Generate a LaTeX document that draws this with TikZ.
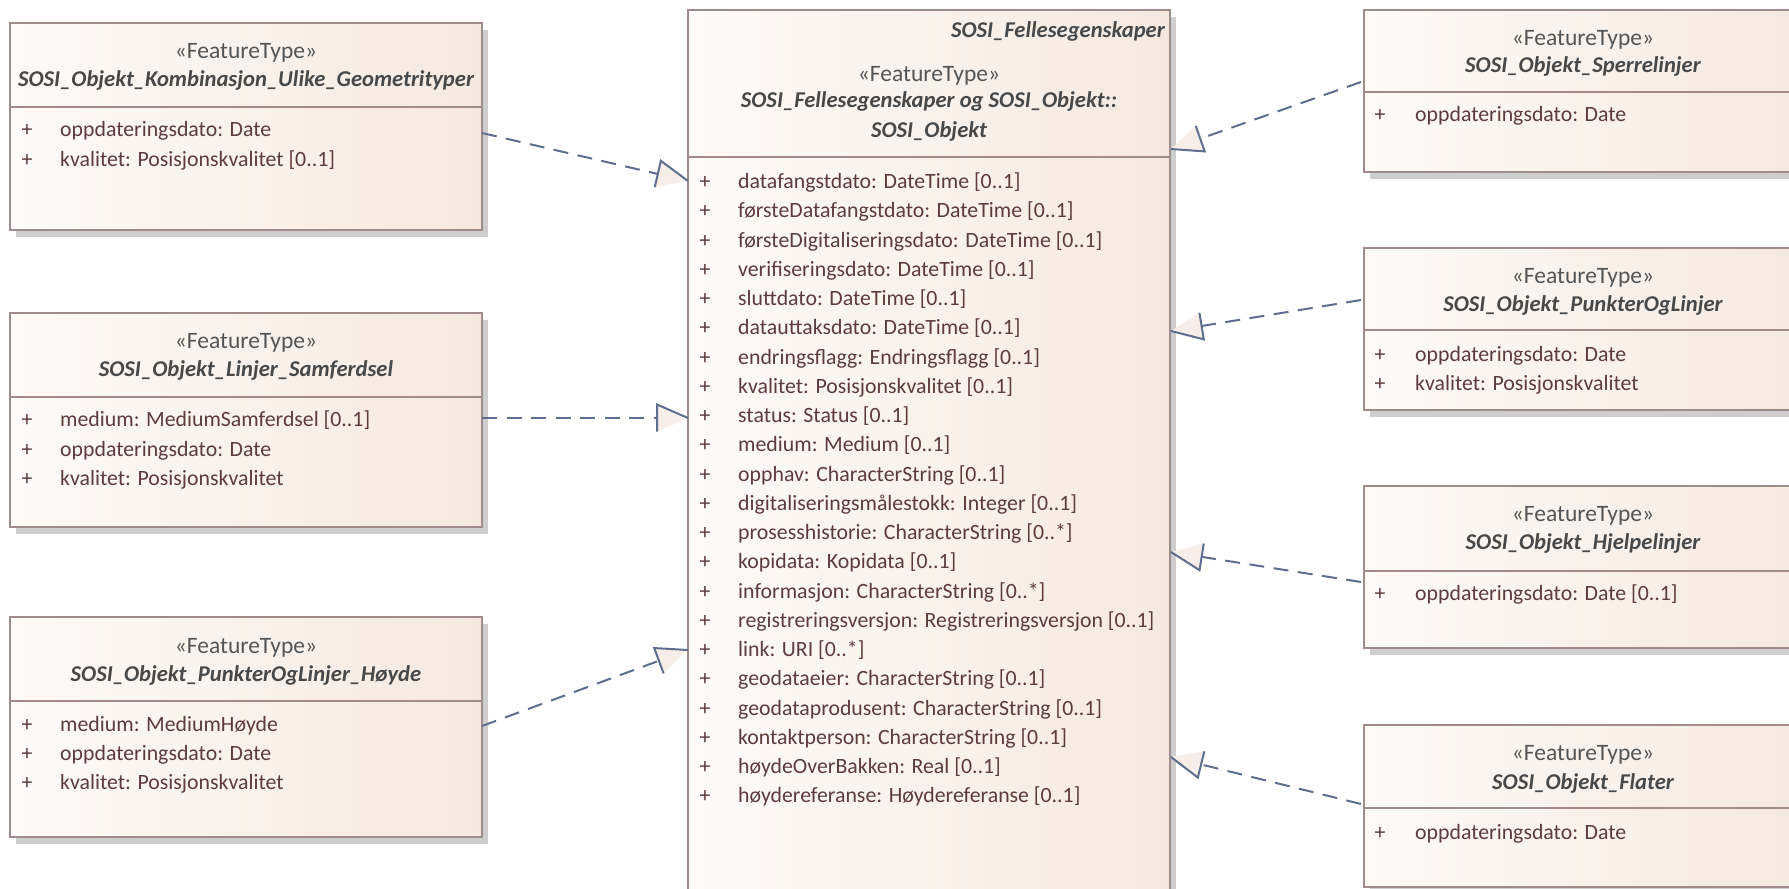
\documentclass[tikz,border=0pt]{standalone}
\usepackage{fontspec}
\setmainfont{Carlito}
\usetikzlibrary{calc}

\definecolor{boxline}{RGB}{160,138,138}
\definecolor{boxleft}{RGB}{253,250,248}
\definecolor{boxright}{RGB}{245,233,223}
\definecolor{shadowgray}{RGB}{206,206,206}
\definecolor{connline}{RGB}{94,110,142}
\definecolor{arrowfill}{RGB}{247,238,234}
\definecolor{attrtext}{RGB}{92,60,60}
\definecolor{stereotext}{RGB}{85,85,85}
\definecolor{titletext}{RGB}{72,72,72}

\tikzset{
  classbox/.style={draw=boxline, line width=2pt, left color=boxleft, right color=boxright,
    inner sep=0pt, outer sep=0pt, anchor=north west},
  boxshadow/.style={fill=shadowgray},
  sepline/.style={draw=boxline, line width=2pt},
  stereo/.style={text=stereotext, font=\fontsize{23.5}{28}\selectfont, inner sep=0pt,
    text height=15pt, text depth=5pt},
  cname/.style={text=titletext, font=\fontsize{22.6}{27}\selectfont\bfseries\itshape, inner sep=0pt,
    text height=14.5pt, text depth=4.6pt},
  attr/.style={text=attrtext, font=\fontsize{21.8}{26}\selectfont, inner sep=0pt, anchor=west,
    text height=14pt, text depth=4.5pt},
  plus/.style={attr, anchor=center},
  realline/.style={draw=connline, line width=2pt, dash pattern=on 15pt off 9.5pt},
  headline/.style={draw=connline, line width=2pt, line join=miter},
  headfill/.style={fill=arrowfill},
}

% class box: name, x, y, width, height, separator offset
\newcommand\classbox[6]{%
  \fill[boxshadow] (#2+6,#3+7) rectangle ++(#4,#5);
  \node[classbox, minimum width=#4pt, minimum height=#5pt] (#1) at (#2,#3) {};
  \draw[sepline] ($(#1.north west)+(0,#6)$) -- ($(#1.north east)+(0,#6)$);
}

% realization: dashed line from source point to tip, hollow triangle head
\newcommand\realize[2]{%
  \coordinate (hb) at ($(#2)!31pt!(#1)$);
  \coordinate (hl) at ($(hb)!13.5pt!90:(#2)$);
  \coordinate (hr) at ($(hb)!13.5pt!-90:(#2)$);
  \draw[realline] (#1) -- (hb);
  \fill[headfill] (#2) -- (hl) -- (hr) -- cycle;
  \draw[headline] (#2) -- (hl) -- (hr);
}

\begin{document}
\begin{tikzpicture}[x=1pt,y=-1pt]
\clip (0,0) rectangle (1789,889);
\fill[white] (0,0) rectangle (1789,889);

% ---- left column ----
\classbox{komb}{10}{23}{472}{207}{84}
\node[stereo] (komb-st) at (246,53) {«FeatureType»};
\node[cname] (komb-nm) at (246,82) {SOSI\_Objekt\_Kombinasjon\_Ulike\_Geometrityper};
\foreach \t [count=\i from 0] in {oppdateringsdato: Date, kvalitet: Posisjonskvalitet [0..1]} {
  \node[plus] (komb-p\i) at (27,132+29.5*\i) {+};
  \node[attr] (komb-a\i) at (60,132+29.5*\i) {\t};
}

\classbox{linjer}{10}{313}{472}{214}{84}
\node[stereo] (linjer-st) at (246,343) {«FeatureType»};
\node[cname] (linjer-nm) at (246,372) {SOSI\_Objekt\_Linjer\_Samferdsel};
\foreach \t [count=\i from 0] in {medium: MediumSamferdsel [0..1], oppdateringsdato: Date, kvalitet: Posisjonskvalitet} {
  \node[plus] (linjer-p\i) at (27,422+29.5*\i) {+};
  \node[attr] (linjer-a\i) at (60,422+29.5*\i) {\t};
}

\classbox{hoyde}{10}{617}{472}{220}{84}
\node[stereo] (hoyde-st) at (246,648) {«FeatureType»};
\node[cname] (hoyde-nm) at (246,677) {SOSI\_Objekt\_PunkterOgLinjer\_Høyde};
\foreach \t [count=\i from 0] in {medium: MediumHøyde, oppdateringsdato: Date, kvalitet: Posisjonskvalitet} {
  \node[plus] (hoyde-p\i) at (27,727+28.7*\i) {+};
  \node[attr] (hoyde-a\i) at (60,727+28.7*\i) {\t};
}

% ---- central class ----
\classbox{obj}{688}{10}{482}{900}{147}
\node[cname, anchor=east] (obj-pkg) at (1165,33) {SOSI\_Fellesegenskaper};
\node[stereo] (obj-st) at (929,76) {«FeatureType»};
\node[cname] (obj-nm1) at (929,103) {SOSI\_Fellesegenskaper og SOSI\_Objekt::};
\node[cname] (obj-nm2) at (929,133) {SOSI\_Objekt};
\foreach \t [count=\i from 0] in {
  datafangstdato: DateTime [0..1],
  førsteDatafangstdato: DateTime [0..1],
  førsteDigitaliseringsdato: DateTime [0..1],
  verifiseringsdato: DateTime [0..1],
  sluttdato: DateTime [0..1],
  datauttaksdato: DateTime [0..1],
  endringsflagg: Endringsflagg [0..1],
  kvalitet: Posisjonskvalitet [0..1],
  status: Status [0..1],
  medium: Medium [0..1],
  opphav: CharacterString [0..1],
  digitaliseringsmålestokk: Integer [0..1],
  prosesshistorie: CharacterString [0..*],
  kopidata: Kopidata [0..1],
  informasjon: CharacterString [0..*],
  registreringsversjon: Registreringsversjon [0..1],
  link: URI [0..*],
  geodataeier: CharacterString [0..1],
  geodataprodusent: CharacterString [0..1],
  kontaktperson: CharacterString [0..1],
  høydeOverBakken: Real [0..1],
  høydereferanse: Høydereferanse [0..1]} {
  \node[plus] (obj-p\i) at (705,184+29.24*\i) {+};
  \node[attr] (obj-a\i) at (738,184+29.24*\i) {\t};
}

% ---- right column ----
\classbox{sperre}{1364}{10}{438}{162}{82}
\node[stereo] (sperre-st) at (1583,40) {«FeatureType»};
\node[cname] (sperre-nm) at (1583,68) {SOSI\_Objekt\_Sperrelinjer};
\node[plus] (sperre-p0) at (1380,117) {+};
\node[attr] (sperre-a0) at (1415,117) {oppdateringsdato: Date};

\classbox{punkt}{1364}{248}{438}{162}{82}
\node[stereo] (punkt-st) at (1583,278) {«FeatureType»};
\node[cname] (punkt-nm) at (1583,307) {SOSI\_Objekt\_PunkterOgLinjer};
\foreach \t [count=\i from 0] in {oppdateringsdato: Date, kvalitet: Posisjonskvalitet} {
  \node[plus] (punkt-p\i) at (1380,357+28.5*\i) {+};
  \node[attr] (punkt-a\i) at (1415,357+28.5*\i) {\t};
}

\classbox{hjelpe}{1364}{486}{438}{162}{85}
\node[stereo] (hjelpe-st) at (1583,516) {«FeatureType»};
\node[cname] (hjelpe-nm) at (1583,545) {SOSI\_Objekt\_Hjelpelinjer};
\node[plus] (hjelpe-p0) at (1380,596) {+};
\node[attr] (hjelpe-a0) at (1415,596) {oppdateringsdato: Date [0..1]};

\classbox{flater}{1364}{725}{438}{162}{83}
\node[stereo] (flater-st) at (1583,755) {«FeatureType»};
\node[cname] (flater-nm) at (1583,785) {SOSI\_Objekt\_Flater};
\node[plus] (flater-p0) at (1380,835) {+};
\node[attr] (flater-a0) at (1415,835) {oppdateringsdato: Date};

% ---- connector end points on the box borders ----
\path (komb.north east)   ++(0,110) coordinate (komb-out);
\path (linjer.north east) ++(0,105) coordinate (linjer-out);
\path (hoyde.north east)  ++(0,109) coordinate (hoyde-out);
\path (sperre.north west) ++(-3,72) coordinate (sperre-out);
\path (punkt.north west)  ++(-3,52) coordinate (punkt-out);
\path (hjelpe.north west) ++(-3,96) coordinate (hjelpe-out);
\path (flater.north west) ++(-3,79) coordinate (flater-out);

\path (obj.north west) ++(0,171) coordinate (tip-komb);
\path (obj.north west) ++(0,408) coordinate (tip-linjer);
\path (obj.north west) ++(0,640) coordinate (tip-hoyde);
\path (obj.north east) ++(1,139) coordinate (tip-sperre);
\path (obj.north east) ++(1,321) coordinate (tip-punkt);
\path (obj.north east) ++(1,542) coordinate (tip-hjelpe);
\path (obj.north east) ++(1,747) coordinate (tip-flater);

% ---- realizations ----
\realize{komb-out}{tip-komb}
\realize{linjer-out}{tip-linjer}
\realize{hoyde-out}{tip-hoyde}
\realize{sperre-out}{tip-sperre}
\realize{punkt-out}{tip-punkt}
\realize{hjelpe-out}{tip-hjelpe}
\realize{flater-out}{tip-flater}
\end{tikzpicture}
\end{document}
